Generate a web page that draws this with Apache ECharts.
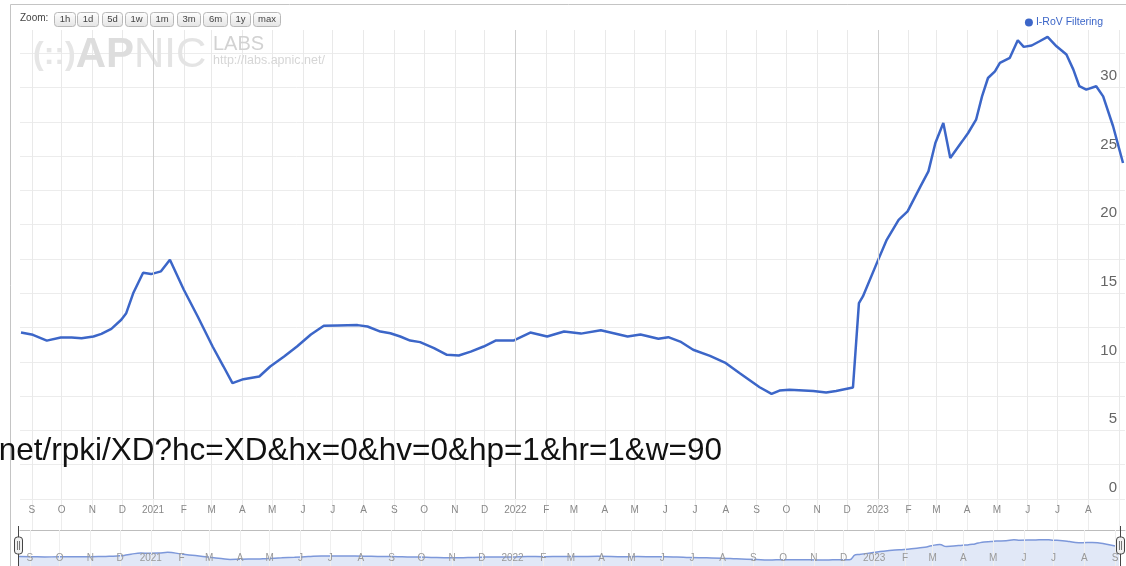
<!DOCTYPE html>
<html><head><meta charset="utf-8">
<script src="https://cdn.jsdelivr.net/npm/echarts@6/dist/echarts.min.js"></script>
<style>html,body{margin:0;padding:0;background:#fff}#c{width:1126px;height:566px}</style>
</head><body><div id="c"></div>
<script>
const seriesName = 'I-RoV Filtering';
const dates = [
'2020-08-21','2020-09-02','2020-09-16','2020-09-30','2020-10-11','2020-10-21','2020-11-02','2020-11-10','2020-11-20','2020-11-30',
'2020-12-05','2020-12-12','2020-12-22','2020-12-30','2021-01-09','2021-01-18','2021-02-01','2021-02-15','2021-03-02','2021-03-13',
'2021-03-22','2021-04-02','2021-04-18','2021-04-29','2021-05-13','2021-05-26','2021-06-09','2021-06-22','2021-07-06','2021-07-26',
'2021-08-05','2021-08-18','2021-08-28','2021-09-07','2021-09-17','2021-09-27','2021-10-11','2021-10-24','2021-11-05','2021-11-17',
'2021-11-30','2021-12-12','2021-12-30','2022-01-16','2022-02-02','2022-02-19','2022-03-08','2022-03-28','2022-04-24','2022-05-07',
'2022-05-25','2022-06-04','2022-06-16','2022-06-29','2022-07-16','2022-07-31','2022-08-15','2022-09-04','2022-09-16','2022-09-24',
'2022-10-04','2022-10-28','2022-11-10','2022-11-20','2022-12-07','2022-12-13','2022-12-17','2022-12-31','2023-01-10','2023-01-22',
'2023-01-31','2023-02-13','2023-02-21','2023-02-28','2023-03-08','2023-03-15','2023-03-27','2023-04-02','2023-04-10','2023-04-16',
'2023-04-22','2023-04-29','2023-05-04','2023-05-14','2023-05-22','2023-05-28','2023-06-05','2023-06-13','2023-06-21','2023-06-30',
'2023-07-10','2023-07-17','2023-07-23','2023-07-30','2023-08-09','2023-08-16','2023-08-26','2023-09-05'
];
const values = [
12.14,11.97,11.55,11.77,11.77,11.73,11.85,12.04,12.41,13.07,
13.55,15.0,16.5,16.4,16.6,17.45,15.26,13.31,11.12,9.66,
8.45,8.74,8.93,9.66,10.39,11.12,12.0,12.63,12.65,12.68,
12.58,12.21,12.09,11.85,11.55,11.44,11.0,10.51,10.46,10.75,
11.12,11.55,11.55,12.14,11.85,12.21,12.06,12.3,11.85,11.99,
11.68,11.80,11.48,10.88,10.44,9.95,9.17,8.15,7.66,7.91,
7.96,7.88,7.76,7.88,8.13,14.28,14.77,17.2,18.9,20.36,
20.97,22.8,23.89,25.96,27.42,24.87,26.08,26.69,27.66,29.36,
30.7,31.19,31.8,32.17,33.45,32.97,33.07,33.38,33.70,33.01,
32.41,31.31,30.1,29.85,30.1,29.36,27.18,24.5
];
const yearStarts = ['2021-01-01','2022-01-01','2023-01-01'];
const monthLetters = ['J','F','M','A','M','J','J','A','S','O','N','D'];
const zoomButtons = ['1h','1d','5d','1w','1m','3m','6m','1y','max'];
const urlText = 'net/rpki/XD?hc=XD&hx=0&hv=0&hp=1&hr=1&w=90';
const xMin = +new Date(2020, 7, 20);
const xMax = +new Date(2023, 8, 7);
const yMax = 34.2;
const yStep = 2.5;

const lineColor = '#3c66c8';
const seriesData = dates.map((d, i) => [d, values[i]]);
const DAY = 864e5;

function monthLabel(v) {
  const d = new Date(v);
  if (d.getDate() !== 1 || d.getHours() !== 0) return '';
  const m = d.getMonth();
  return m === 0 ? String(d.getFullYear()) : monthLetters[m];
}
function mainMonthLabel(v) {
  if (xMax - v < 15 * DAY) return '';
  return monthLabel(v);
}
const commonX = {type: 'time', min: xMin, max: xMax, minInterval: 28 * DAY, maxInterval: 31 * DAY};

const btnX = [54, 77, 102, 125, 150, 177, 203, 230, 253];
const btnW = [21, 21, 20, 22, 23, 23, 24, 20, 27];
const graphics = [];
graphics.push({type: 'rect', shape: {x: 10.5, y: 4.5, width: 1130, height: 580}, style: {fill: 'none', stroke: '#c4c4c4', lineWidth: 1}, z: 0, silent: true});
graphics.push({type: 'text', x: 20, y: 13, style: {text: 'Zoom:', fontSize: 10, fontFamily: 'Liberation Sans', fill: '#444'}, z: 5});
zoomButtons.forEach((t, i) => {
  graphics.push({type: 'rect', shape: {x: btnX[i] + 0.5, y: 12.5, width: btnW[i], height: 14, r: 3},
    style: {fill: new echarts.graphic.LinearGradient(0, 0, 0, 1, [{offset: 0, color: '#ffffff'}, {offset: 1, color: '#e4e4e4'}]), stroke: '#b8b8b8'}, z: 5});
  graphics.push({type: 'text', x: btnX[i] + btnW[i] / 2 + 0.5, y: 19.5, style: {text: t, fontSize: 9.5, fontFamily: 'Liberation Sans', fill: '#444', align: 'center', verticalAlign: 'middle'}, z: 6});
});
graphics.push({type: 'text', x: 33, y: 34, style: {text: '{a|(::)}{b|AP}{c|NIC}', rich: {
  a: {fontSize: 32, fontFamily: 'Liberation Sans', fill: '#e6e6e6', fontWeight: 'bold'},
  b: {fontSize: 42, fontFamily: 'Liberation Sans', fill: '#dddddd', fontWeight: 'bold'},
  c: {fontSize: 42, fontFamily: 'Liberation Sans', fill: '#e4e4e4'}}}, z: 1, silent: true});
graphics.push({type: 'text', x: 213, y: 34, style: {text: 'LABS', fontSize: 20, fontFamily: 'Liberation Sans', fill: '#d2d2d2'}, z: 1});
graphics.push({type: 'text', x: 213, y: 54, style: {text: 'http://labs.apnic.net/', fontSize: 12.5, fontFamily: 'Liberation Sans', fill: '#d6d6d6'}, z: 1});
graphics.push({type: 'text', x: 722, y: 435, style: {text: urlText, fontSize: 31.5, fontFamily: 'Liberation Sans', fill: '#111', align: 'right', verticalAlign: 'top'}, z: 100});
[18.5, 1120.5].forEach(hx => {
  graphics.push({type: 'line', shape: {x1: hx, y1: 526, x2: hx, y2: 566}, style: {stroke: '#444', lineWidth: 1}, z: 50});
  graphics.push({type: 'rect', shape: {x: hx - 4, y: 537, width: 8, height: 17, r: 3}, style: {fill: '#f0f0f0', stroke: '#444', lineWidth: 1}, z: 51});
  graphics.push({type: 'line', shape: {x1: hx - 1, y1: 541, x2: hx - 1, y2: 550}, style: {stroke: '#777', lineWidth: 1}, z: 52});
  graphics.push({type: 'line', shape: {x1: hx + 1, y1: 541, x2: hx + 1, y2: 550}, style: {stroke: '#777', lineWidth: 1}, z: 52});
});

const option = {
  animation: false,
  backgroundColor: '#fff',
  textStyle: {fontFamily: 'Liberation Sans'},
  legend: {data: [seriesName], top: 12, right: 18, icon: 'circle', itemWidth: 8, itemHeight: 8, itemGap: 4,
    textStyle: {color: lineColor, fontSize: 10.5, fontFamily: 'Liberation Sans', padding: [0, 0, 0, -2]}},
  grid: [
    {left: 20, right: 1, top: 30, height: 469},
    {left: 20, right: 1, top: 499, height: 31},
    {left: 18, right: 5, top: 530, height: 36}
  ],
  xAxis: [
    Object.assign({gridIndex: 0, axisLine: {show: false}, axisTick: {show: false}, axisLabel: {show: false},
      splitLine: {show: true, showMinLine: false, showMaxLine: false, lineStyle: {color: '#e9e9e9', width: 1}}}, commonX),
    Object.assign({gridIndex: 1, position: 'top', axisLine: {show: true, lineStyle: {color: '#bdbdbd'}}, axisTick: {show: false},
      axisLabel: {inside: true, margin: 6, fontSize: 10, color: '#888', formatter: mainMonthLabel, showMinLabel: false, showMaxLabel: false, hideOverlap: false},
      splitLine: {show: true, showMinLine: false, showMaxLine: false, lineStyle: {color: '#ececec'}}}, commonX),
    Object.assign({gridIndex: 2, z: 10, axisLine: {show: false}, axisTick: {show: false},
      axisLabel: {inside: true, margin: 3, fontSize: 10, color: '#999', formatter: monthLabel, showMinLabel: false, showMaxLabel: false, hideOverlap: false},
      splitLine: {show: true, showMinLine: false, showMaxLine: false, lineStyle: {color: '#efefef'}}}, commonX)
  ],
  yAxis: [
    {type: 'value', gridIndex: 0, position: 'right', min: 0, max: yMax, interval: yStep,
      axisLine: {show: false}, axisTick: {show: false},
      axisLabel: {inside: true, margin: 8, fontSize: 15, color: '#666', verticalAlign: 'bottom', padding: [0, 0, 4, 0],
        formatter: v => (Math.abs(v % 5) < 1e-9 ? String(v) : '')},
      splitLine: {show: true, showMaxLine: false, lineStyle: {color: '#ececec'}}},
    {type: 'value', gridIndex: 1, min: 0, max: 1, show: false},
    {type: 'value', gridIndex: 2, min: 0, max: 46, show: false}
  ],
  series: [
    {name: seriesName, type: 'line', xAxisIndex: 0, yAxisIndex: 0, data: seriesData, showSymbol: false, symbol: 'none',
      lineStyle: {color: lineColor, width: 2.5}, itemStyle: {color: lineColor}, z: 3,
      markLine: {silent: true, symbol: 'none', label: {show: false}, lineStyle: {color: '#cfcfcf', type: 'solid', width: 1},
        data: yearStarts.map(d => ({xAxis: d}))}},
    {name: 'nav', type: 'line', xAxisIndex: 2, yAxisIndex: 2, data: seriesData, showSymbol: false, symbol: 'none', smooth: true,
      lineStyle: {color: '#7d98da', width: 1.5}, areaStyle: {color: '#e1e8f7', opacity: 1}, z: 1}
  ],
  graphic: graphics
};
const chart = echarts.init(document.getElementById('c'), null, {renderer: 'canvas'});
chart.setOption(option);
</script></body></html>
